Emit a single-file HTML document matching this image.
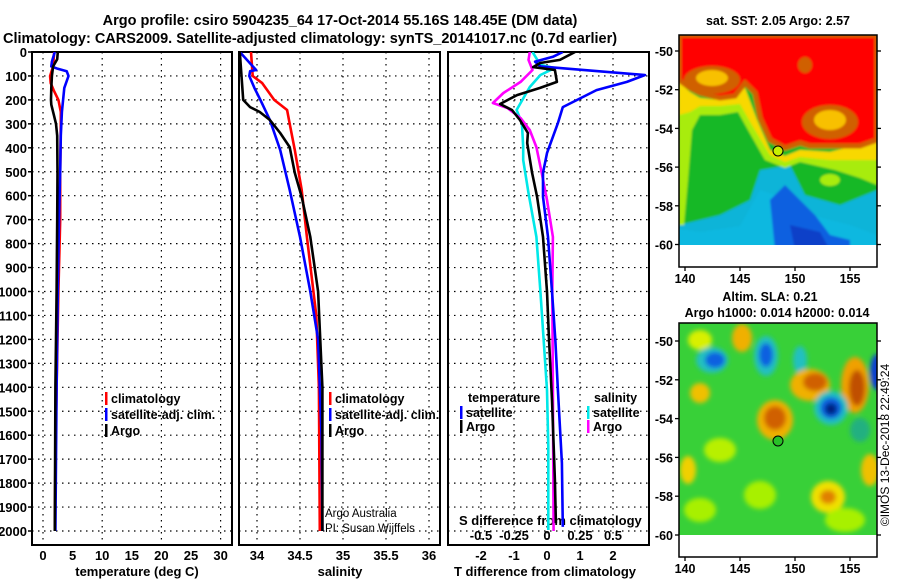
<!DOCTYPE html>
<html><head><meta charset="utf-8">
<style>
html,body{margin:0;padding:0;background:#fff;}
svg{display:block;font-family:"Liberation Sans",sans-serif;}
.b{font-weight:bold;}
</style></head>
<body>
<svg id="chart" width="900" height="580" viewBox="0 0 900 580" xmlns="http://www.w3.org/2000/svg">
<defs>
<clipPath id="cp1"><rect x="32" y="52" width="200" height="493"/></clipPath>
<clipPath id="cp2"><rect x="239" y="52" width="201" height="493"/></clipPath>
<clipPath id="cp3"><rect x="448" y="52" width="201" height="493"/></clipPath>
<clipPath id="cm1"><rect x="679" y="35" width="198" height="210"/></clipPath>
<clipPath id="cm2"><rect x="679" y="323" width="198" height="212"/></clipPath>
<filter id="bl" x="-10%" y="-10%" width="120%" height="120%"><feGaussianBlur stdDeviation="2.5"/></filter>
<filter id="bl2" x="-10%" y="-10%" width="120%" height="120%"><feGaussianBlur stdDeviation="1"/></filter>
</defs>
<text class="b" x="340" y="25" font-size="14.5" text-anchor="middle">Argo profile: csiro 5904235_64 17-Oct-2014 55.16S 148.45E (DM data)</text>
<text class="b" x="3" y="43" font-size="14.5">Climatology: CARS2009. Satellite-adjusted climatology: synTS_20141017.nc (0.7d earlier)</text>

<!-- Map 1 -->
<g>
<text class="b" x="778" y="25" font-size="12.5" text-anchor="middle">sat. SST: 2.05 Argo: 2.57</text>
<g clip-path="url(#cm1)">
<g filter="url(#bl2)">
<rect x="670" y="30" width="215" height="220" fill="#18b828"/>
<polygon points="679,225 720,215 750,200 760,170 790,165 805,195 840,205 877,190 877,250 679,250" fill="#10b4d8"/>
<polygon points="675,228 700,232 740,226 760,190 775,195 790,190 810,215 850,225 877,235 877,250 675,250" fill="#10b8e0"/>
<polygon points="770,200 785,185 800,200 815,215 830,235 850,240 850,250 775,250" fill="#1060e0"/>
<polygon points="790,225 820,232 830,250 795,250" fill="#0840c8"/>
<polygon points="679,82 690,95 700,98 720,100 745,88 757,120 770,150 785,156 800,150 830,152 877,140 877,185 860,178 835,170 800,162 785,168 765,160 748,130 738,112 720,115 700,115 692,130 688,180 684,225 679,225" fill="#a8ec10"/>
<polygon points="679,82 690,92 700,98 720,100 745,88 757,120 770,150 785,156 800,150 830,152 877,140 877,160 830,160 800,157 785,162 770,155 752,125 740,104 720,106 700,106 690,112 679,115" fill="#f8d800"/>
<ellipse cx="830" cy="180" rx="10" ry="6" fill="#a8ec10"/>
<polygon points="679,35 877,35 877,140 860,146 840,146 810,146 800,143 785,148 770,140 760,118 755,93 745,83 735,96 720,98 700,93 690,88 679,80" fill="#ff0000" stroke="#d06000" stroke-width="5"/>
<ellipse cx="712" cy="80" rx="28" ry="14" fill="#d06000"/>
<ellipse cx="712" cy="78" rx="16" ry="8" fill="#f8c000"/>
<ellipse cx="830" cy="122" rx="28" ry="17" fill="#d06000"/>
<ellipse cx="830" cy="120" rx="16" ry="10" fill="#f8c000"/>
<ellipse cx="805" cy="65" rx="7" ry="8" fill="#d06000"/>
</g>
</g>
<rect x="679" y="35" width="198" height="232" fill="none" stroke="#000" stroke-width="1.5"/>
<circle cx="778" cy="151" r="5" fill="#c8f000" stroke="#000" stroke-width="1"/>
<g id="m1ticks" class="b" font-size="12.5"></g>
</g>

<!-- Map 2 -->
<g>
<text class="b" x="770" y="301" font-size="12.5" text-anchor="middle">Altim. SLA: 0.21</text>
<text class="b" x="777" y="317" font-size="12.5" text-anchor="middle">Argo h1000: 0.014 h2000: 0.014</text>
<g clip-path="url(#cm2)">
<rect x="670" y="318" width="215" height="220" fill="#38d038"/>
<g filter="url(#bl)">
<ellipse cx="742" cy="338" rx="10" ry="14" fill="#f0b000"/>
<ellipse cx="700" cy="340" rx="12" ry="10" fill="#d8f000"/>
<ellipse cx="712" cy="360" rx="16" ry="13" fill="#20c0c0"/>
<ellipse cx="715" cy="360" rx="10" ry="8" fill="#1060e0"/>
<ellipse cx="766" cy="356" rx="12" ry="20" fill="#20c0c0"/>
<ellipse cx="766" cy="355" rx="7" ry="12" fill="#1060e0"/>
<ellipse cx="800" cy="360" rx="7" ry="14" fill="#20c0c0"/>
<ellipse cx="810" cy="385" rx="20" ry="16" fill="#f0b000"/>
<ellipse cx="815" cy="382" rx="12" ry="9" fill="#d06000"/>
<ellipse cx="855" cy="385" rx="14" ry="28" fill="#f0a000"/>
<ellipse cx="857" cy="388" rx="8" ry="18" fill="#c05000"/>
<ellipse cx="831" cy="408" rx="17" ry="17" fill="#20c0c0"/>
<ellipse cx="831" cy="408" rx="11" ry="11" fill="#1060e0"/>
<ellipse cx="831" cy="409" rx="6" ry="6" fill="#002080"/>
<ellipse cx="877" cy="372" rx="7" ry="18" fill="#1040d0"/>
<ellipse cx="775" cy="420" rx="18" ry="20" fill="#f0b000"/>
<ellipse cx="775" cy="418" rx="11" ry="12" fill="#d06000"/>
<ellipse cx="700" cy="393" rx="10" ry="10" fill="#f0c000"/>
<ellipse cx="828" cy="497" rx="17" ry="16" fill="#f0e000"/>
<ellipse cx="828" cy="497" rx="8" ry="7" fill="#e08000"/>
<ellipse cx="688" cy="470" rx="8" ry="14" fill="#f0d000"/>
<ellipse cx="870" cy="470" rx="9" ry="16" fill="#f0c000"/>
<ellipse cx="720" cy="450" rx="16" ry="12" fill="#b8f000"/>
<ellipse cx="760" cy="495" rx="16" ry="14" fill="#a8f000"/>
<ellipse cx="860" cy="430" rx="10" ry="12" fill="#20b080"/>
<ellipse cx="845" cy="520" rx="20" ry="12" fill="#a8f000"/>
<ellipse cx="700" cy="510" rx="16" ry="12" fill="#a8f000"/>
</g>
</g>
<rect x="679" y="323" width="198" height="234" fill="none" stroke="#000" stroke-width="1.5"/>
<circle cx="778" cy="441" r="5" fill="#28c028" stroke="#000" stroke-width="1"/>
<g id="m2ticks" class="b" font-size="12.5"></g>
</g>
<text x="0" y="0" font-size="12" transform="translate(889,445) rotate(-90)" text-anchor="middle">©IMOS 13-Dec-2018 22:49:24</text>

<g id="plots"></g>
</svg>
<script>
// ---------- data ----------
const depthTicks = [0,100,200,300,400,500,600,700,800,900,1000,1100,1200,1300,1400,1500,1600,1700,1800,1900,2000];
const tempTicks = [0,5,10,15,20,25,30];
const salTicks = [34,34.5,35,35.5,36];
const salTickLabels = ['34','34.5','35','35.5','36'];
const tdiffTicks = [-2,-1,0,1,2];
const sdiffTicks = [-0.5,-0.25,0,0.25,0.5];
const sdiffTickLabels = ['-0.5','-0.25','0','0.25','0.5'];
const latTicks = [-50,-52,-54,-56,-58,-60];
const lonTicks = [140,145,150,155];

const tClimDepth = [0,60,100,130,160,200,250,300,500,700,1000,1400,1700,2000];
const tClimVal = [1.9,1.7,1.2,1.3,1.8,2.6,3.0,3.0,2.9,2.9,2.6,2.3,2.1,2.0];
const tSatDepth = [0,40,60,70,80,100,150,250,350,500,700,1000,1400,2000];
const tSatVal = [2.0,1.5,1.4,2.5,4.0,4.3,3.6,3.2,3.0,2.9,2.7,2.5,2.3,2.1];
const tArgoDepth = [0,30,60,100,150,200,220,260,300,350,500,700,1000,1400,2000];
const tArgoVal = [2.5,2.4,1.7,1.5,1.4,1.35,1.4,1.8,2.2,2.4,2.45,2.4,2.3,2.1,2.0];

const sClimDepth = [0,100,130,200,242,300,409,576,772,1100,1400,2000];
const sClimVal = [33.93,33.95,34.06,34.20,34.35,34.38,34.44,34.52,34.58,34.69,34.72,34.73];
const sSatDepth = [0,75,80,100,150,200,284,409,576,772,1000,1200,1600,2000];
const sSatVal = [33.80,33.99,33.92,33.91,33.97,34.04,34.15,34.27,34.38,34.50,34.62,34.71,34.75,34.76];
const sArgoDepth = [0,200,230,250,284,338,397,505,605,772,1000,1400,2000];
const sArgoVal = [33.80,33.84,33.92,34.03,34.15,34.27,34.38,34.44,34.52,34.62,34.71,34.76,34.76];

const dtSatDepth = [0,20,40,60,96,125,159,230,297,422,505,605,772,1000,1200,1411,1716,1983];
const dtSatVal = [0.48,0.18,-0.36,-0.2,2.97,2.42,1.5,0.48,0.33,0.0,-0.12,-0.12,0.03,0.15,0.25,0.33,0.45,0.48];
const dtArgoDepth = [0,33,46,63,75,125,150,180,217,242,284,338,380,505,605,772,1000,1200,1453,1787,1967];
const dtArgoVal = [0.85,0.39,-0.21,-0.42,0.24,0.3,-0.21,-0.91,-1.42,-1.06,-0.82,-0.58,-0.6,-0.45,-0.3,-0.12,0.0,0.06,0.15,0.24,0.27];
const dsArgoDepth = [0,33,75,125,171,213,234,276,326,397,505,618,772,1000,1411,2000];
const dsArgoVal = [-0.13,-0.14,-0.11,-0.2,-0.33,-0.41,-0.3,-0.2,-0.13,-0.08,-0.04,0,0.045,0.04,0.045,0.05];
const dsSatDepth = [0,54,67,96,146,213,242,297,397,451,589,772,1000,1411,1649,1996];
const dsSatVal = [-0.11,-0.05,0.06,-0.05,-0.13,-0.2,-0.23,-0.19,-0.18,-0.18,-0.14,-0.08,-0.05,0,0.01,0.01];

// ---------- scales ----------
const NS='http://www.w3.org/2000/svg';
const yD = d => 52 + d*0.2395;
const xT = t => 43 + t*5.92;
const xS = s => 257 + (s-34)*86;
const xDT = t => 547 + t*33;
const xDS = s => 547 + s*132;
const yLat1 = l => 51 + (-50-l)*19.35;
const yLat2 = l => 341 + (-50-l)*19.4;
const xLon = l => 685 + (l-140)*11;

function mk(tag, attrs, parent){
  const e=document.createElementNS(NS,tag);
  for(const k in attrs) e.setAttribute(k,attrs[k]);
  parent.appendChild(e); return e;
}
const root=document.getElementById('plots');

const panels=[
  {x0:32,x1:232,clip:'cp1',grid:[0,10,20,30].map(xT),name:'temperature-panel'},
  {x0:239,x1:440,clip:'cp2',grid:salTicks.map(xS),name:'salinity-panel'},
  {x0:448,x1:649,clip:'cp3',grid:tdiffTicks.map(xDT),name:'difference-panel'}
];
panels.forEach(p=>{
  const g=mk('g',{},root);
  
  
  depthTicks.forEach(d=>{
    if(d===0) return;
    const l=mk('line',{x1:p.x0,x2:p.x1,y1:yD(d),y2:yD(d),stroke:'#000','stroke-width':1.2,'stroke-dasharray':'1.5,4.5'},g);
    
    
  });
  p.grid.forEach(x=>{
    const l=mk('line',{x1:x,x2:x,y1:52,y2:545,stroke:'#000','stroke-width':1.2,'stroke-dasharray':'1.5,4.5'},g);
    
    
  });
  const r=mk('rect',{x:p.x0,y:52,width:p.x1-p.x0,height:493,fill:'none',stroke:'#000','stroke-width':2},g);
  
  
  p.g=g;
});

// depth labels
depthTicks.forEach(d=>{
  const t=mk('text',{x:27,y:yD(d)+5,'font-size':13,'text-anchor':'end','class':'b'},root);
  t.textContent=d;
  
  
  const tk=mk('line',{x1:32,x2:28,y1:yD(d),y2:yD(d),stroke:'#000','stroke-width':1.5},root);
  
  
});

function xlabels(ticks,labels,fx,y,fs,name){
  ticks.forEach((v,i)=>{
    const t=mk('text',{x:fx(v),y:y,'font-size':fs,'text-anchor':'middle','class':'b'},root);
    t.textContent=labels[i];
    
    
  });
}
xlabels(tempTicks,tempTicks.map(String),xT,560,13,'temperature-tick-label');
xlabels(salTicks,salTickLabels,xS,560,13,'salinity-tick-label');
xlabels(tdiffTicks,tdiffTicks.map(String),xDT,560,13,'tdiff-tick-label');
xlabels(sdiffTicks,sdiffTickLabels,xDS,540,13,'sdiff-tick-label');

[[137,'temperature (deg C)','temperature-axis-title'],[340,'salinity','salinity-axis-title'],[545,'T difference from climatology','tdiff-axis-title']].forEach(a=>{
  const t=mk('text',{x:a[0],y:576,'font-size':13,'text-anchor':'middle','class':'b'},root);
  t.textContent=a[1];
  
  
});
{
  const t=mk('text',{x:459,y:525,'font-size':13,'class':'b'},root);
  t.textContent='S difference from climatology';
  
  
}

function series(depths,vals,fx,color,clip,name){
  const pts=depths.map((d,i)=>fx(vals[i]).toFixed(1)+','+yD(d).toFixed(1)).join(' ');
  const pl=mk('polyline',{points:pts,fill:'none',stroke:color,'stroke-width':2.6,'stroke-linejoin':'round','clip-path':'url(#'+clip+')'},root);
  
  
}
series(tClimDepth,tClimVal,xT,'#ff0000','cp1','temperature-climatology-line');
series(tSatDepth,tSatVal,xT,'#0000ff','cp1','temperature-satellite-line');
series(tArgoDepth,tArgoVal,xT,'#000000','cp1','temperature-argo-line');
series(sClimDepth,sClimVal,xS,'#ff0000','cp2','salinity-climatology-line');
series(sSatDepth,sSatVal,xS,'#0000ff','cp2','salinity-satellite-line');
series(sArgoDepth,sArgoVal,xS,'#000000','cp2','salinity-argo-line');
series(dsSatDepth,dsSatVal,xDS,'#00e8e8','cp3','sdiff-satellite-line');
series(dsArgoDepth,dsArgoVal,xDS,'#ff00ff','cp3','sdiff-argo-line');
series(dtSatDepth,dtSatVal,xDT,'#0000ff','cp3','tdiff-satellite-line');
series(dtArgoDepth,dtArgoVal,xDT,'#000000','cp3','tdiff-argo-line');

function legend(x,y,color,label,name){
  const b=mk('rect',{x:x,y:y-11,width:2.5,height:13,fill:color},root);
  
  
  const t=mk('text',{x:x+6,y:y,'font-size':12.5,'class':'b'},root);
  t.textContent=label;
  
  
}
legend(105,403,'#ff0000','climatology','temp-legend-climatology');
legend(105,419,'#0000ff','satellite-adj. clim.','temp-legend-satellite');
legend(105,435,'#000000','Argo','temp-legend-argo');
legend(329,403,'#ff0000','climatology','sal-legend-climatology');
legend(329,419,'#0000ff','satellite-adj. clim.','sal-legend-satellite');
legend(329,435,'#000000','Argo','sal-legend-argo');
{
  const t=mk('text',{x:468,y:402,'font-size':12.5,'class':'b'},root);
  t.textContent='temperature';
  
  
  const s=mk('text',{x:594,y:402,'font-size':12.5,'class':'b'},root);
  s.textContent='salinity';
  
  
}
legend(460,417,'#0000ff','satellite','diff-legend-temp-satellite');
legend(460,431,'#000000','Argo','diff-legend-temp-argo');
legend(587,417,'#00e8e8','satellite','diff-legend-sal-satellite');
legend(587,431,'#ff00ff','Argo','diff-legend-sal-argo');
[['Argo Australia',517,'credit-argo-australia'],['PI: Susan Wijffels',532,'credit-pi']].forEach(c=>{
  const t=mk('text',{x:325,y:c[1],'font-size':11.5},root);
  t.textContent=c[0];
  
  
});

// map ticks
function mapTicks(gid,fy,yBot,labelY){
  const g=document.getElementById(gid);
  latTicks.forEach(l=>{
    const t=mk('text',{x:673,y:fy(l)+5,'text-anchor':'end'},g);
    t.textContent=l;
    
    
    const a=mk('line',{x1:675,x2:679,y1:fy(l),y2:fy(l),stroke:'#000','stroke-width':1.3},g);
    
    
    const b=mk('line',{x1:877,x2:881,y1:fy(l),y2:fy(l),stroke:'#000','stroke-width':1.3},g);
    
    
  });
  lonTicks.forEach(l=>{
    const t=mk('text',{x:xLon(l),y:labelY,'text-anchor':'middle'},g);
    t.textContent=l;
    
    
    const a=mk('line',{x1:xLon(l),x2:xLon(l),y1:yBot,y2:yBot+4,stroke:'#000','stroke-width':1.3},g);
    
    
  });
}
mapTicks('m1ticks',yLat1,267,283);
mapTicks('m2ticks',yLat2,557,573);
</script>
</body></html>
